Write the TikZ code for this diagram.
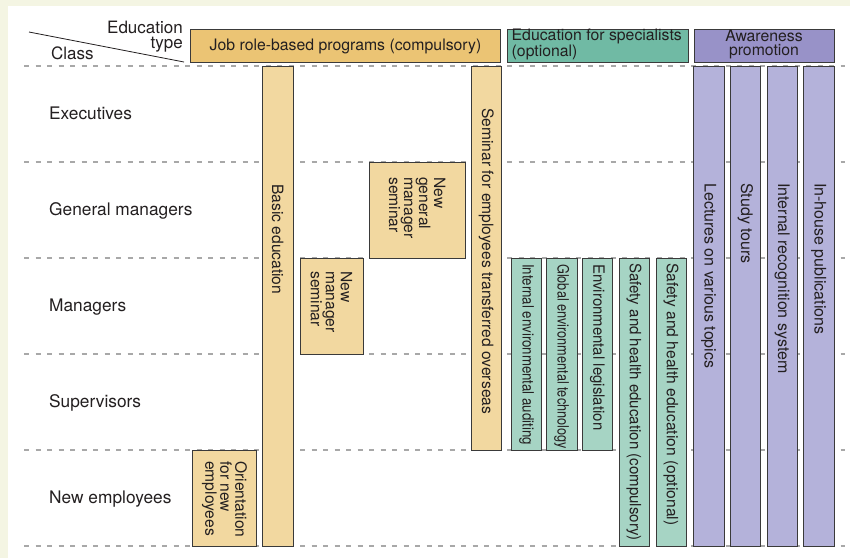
\documentclass[tikz,border=0pt]{standalone}
\usepackage{fontspec}
\setmainfont{TeX Gyre Heros}
\usetikzlibrary{calc}
\definecolor{bgbeige}{HTML}{F4F5E3}
\definecolor{txt}{HTML}{231F20}
\definecolor{bord}{HTML}{3A3A3A}
\definecolor{dashc}{HTML}{A8A8A8}
\definecolor{hOr}{HTML}{EBC474}
\definecolor{lOr}{HTML}{F2D8A0}
\definecolor{hGr}{HTML}{70BAA4}
\definecolor{lGr}{HTML}{A6D4C4}
\definecolor{hPu}{HTML}{9892C8}
\definecolor{lPu}{HTML}{B4B2DA}
\newcommand\bx[6]{\node[box,#6,minimum width={(#4)-(#2)},minimum height={(#5)-(#3)}] (#1) at (#2,#3) {};}
\begin{document}
\begin{tikzpicture}[x=1pt,y=-1pt,
  box/.style={draw=bord,line width=0.9pt,anchor=north west,inner sep=0pt,outer sep=0pt},
  vtxt/.style={rotate=-90,anchor=west,inner sep=0pt,text=txt,align=left,font=\fontsize{15.6}{15}\selectfont},
  ptxt/.style={vtxt,font=\fontsize{16}{15}\selectfont},
  rowlab/.style={anchor=base west,inner sep=0pt,text=txt,font=\fontsize{17.3}{17}\selectfont},
  htxt/.style={inner sep=0pt,text=txt,font=\fontsize{15.8}{14.5}\selectfont},
  ctxt/.style={inner sep=0pt,text=txt,font=\fontsize{17}{15}\selectfont},
  dashline/.style={draw=dashc,line width=2.2pt,dash pattern=on 5pt off 6.5pt},
  ]
\useasboundingbox (0,0) rectangle (850,558);
\fill[bgbeige] (0,0) rectangle (850,558);
\fill[white] (8,6) rectangle (850,558);
% dashed row lines
\foreach \i/\yy in {0/66,1/162,2/258,3/354,4/450,5/546}{
  \coordinate (la\i) at (24,\yy);
  \coordinate (lb\i) at (845,\yy);
  \draw[dashline] (la\i) -- (lb\i);
}
% header corner
\coordinate (dg1) at (29,32);
\coordinate (dg2) at (184,62);
\draw[txt,line width=0.8pt] (dg1) -- (dg2);
\node[ctxt,anchor=east,align=right] (edtype) at (183,37) {Education\\type};
\node[ctxt,anchor=base west] (class) at (51,59) {Class};
% header boxes
\bx{hjob}{190}{29}{500.5}{62}{fill=hOr}
\bx{hspec}{507}{29}{688}{62}{fill=hGr}
\bx{haw}{694}{29}{834}{62}{fill=hPu}
\node[htxt,anchor=base] (hjobT) at (345.5,50.5) {Job role-based programs (compulsory)};
\node[htxt,anchor=west,align=left] (hspecT) at (511.5,44.5) {Education for specialists\\(optional)};
\node[htxt,align=center] (hawT) at (764,44.5) {Awareness\\promotion};
% row labels
\node[rowlab] (r1) at (49,119.5) {Executives};
\node[rowlab] (r2) at (49,215.5) {General managers};
\node[rowlab] (r3) at (49,311.5) {Managers};
\node[rowlab] (r4) at (49,407.5) {Supervisors};
\node[rowlab] (r5) at (49,503.5) {New employees};
% job role-based boxes
\bx{basic}{262.5}{66}{293}{546}{fill=lOr}
\bx{newgm}{369.5}{162}{465}{258}{fill=lOr}
\bx{newmgr}{300}{258}{363}{354}{fill=lOr}
\bx{overs}{471}{66}{501.5}{450}{fill=lOr}
\bx{orient}{192.5}{450}{256.5}{546}{fill=lOr}
\node[vtxt] (basicT) at ($(basic.north)+(0,118)$) {Basic education};
\node[vtxt] (newgmT) at ($(newgm.north)+(0,15)$) {New\\general\\manager\\seminar};
\node[vtxt] (newmgrT) at ($(newmgr.north)+(0,13)$) {New\\manager\\seminar};
\node[vtxt] (oversT) at ($(overs.north)+(0,42)$) {Seminar for employees transferred overseas};
\node[vtxt] (orientT) at ($(orient.north)+(0,11)$) {Orientation\\for new\\employees};
% specialists boxes
\bx{audit}{511.5}{258}{541.5}{450}{fill=lGr}
\bx{globt}{546.5}{258}{577}{450}{fill=lGr}
\bx{envleg}{582}{258}{612.5}{450}{fill=lGr}
\bx{shc}{619}{258}{649}{546}{fill=lGr}
\bx{sho}{656}{258}{686}{546}{fill=lGr}
\node[vtxt] (auditT) at ($(audit.north)+(0,6)$) {\scalebox{0.85}[1]{Internal environmental auditing}};
\node[vtxt] (globtT) at ($(globt.north)+(0,6)$) {\scalebox{0.815}[1]{Global environmental technology}};
\node[vtxt] (envlegT) at ($(envleg.north)+(0,6)$) {\scalebox{0.96}[1]{Environmental legislation}};
\node[vtxt] (shcT) at ($(shc.north)+(0,5)$) {\scalebox{0.965}[1]{Safety and health education (compulsory)}};
\node[vtxt] (shoT) at ($(sho.north)+(0,5)$) {Safety and health education (optional)};
% awareness boxes
\bx{lect}{693.5}{66}{724}{546}{fill=lPu}
\bx{study}{730}{66}{760.5}{546}{fill=lPu}
\bx{recog}{767}{66}{797.5}{546}{fill=lPu}
\bx{pub}{803.5}{66}{834}{546}{fill=lPu}
\node[ptxt] (lectT) at ($(lect.north)+(0,117)$) {Lectures on various topics};
\node[ptxt] (studyT) at ($(study.north)+(0,117)$) {Study tours};
\node[ptxt] (recogT) at ($(recog.north)+(0,117)$) {Internal recognition system};
\node[ptxt] (pubT) at ($(pub.north)+(0,117)$) {In-house publications};
\end{tikzpicture}
\end{document}
